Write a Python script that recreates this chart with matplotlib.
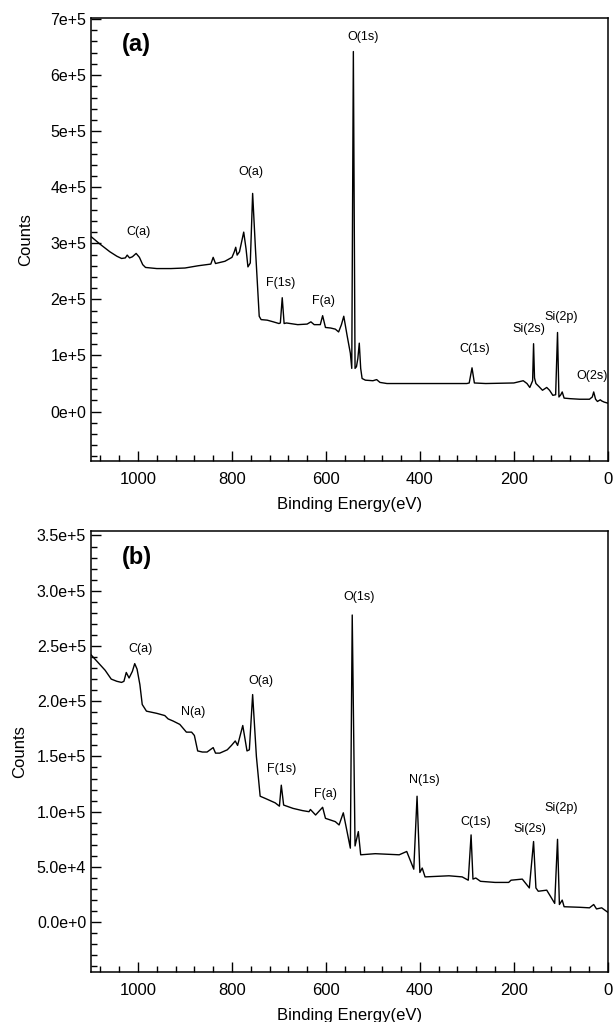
import numpy as np
import matplotlib.pyplot as plt
from matplotlib.ticker import MultipleLocator, FuncFormatter

plt.rcParams["font.family"] = ["Liberation Sans", "DejaVu Sans"]

# spectrum (a): binding energy [eV] / counts
energy_a = [1100, 1080, 1060, 1045, 1035, 1027, 1023, 1018, 1012, 1004, 997, 990, 984,
            960, 930, 900, 872, 845, 840, 835, 815, 800, 795, 792, 789, 784, 775,
            770, 766, 761, 756, 750, 742, 738, 725, 712, 700, 697, 693, 689, 684,
            660, 640, 632, 625, 612, 607, 601, 590, 580, 573, 567, 562, 555, 548,
            545, 541.6, 538, 535, 532, 529, 526, 523, 516, 500, 492, 485, 470,
            400, 300, 295, 289, 284, 260, 200, 190, 180, 172, 166, 160, 158, 156,
            153, 147, 139, 130, 124, 117, 111, 107, 104, 100, 97, 93, 80, 60, 39,
            33, 30, 26, 22, 16, 13, 8, 0]
counts_a = [3.12e5, 2.98e5, 2.85e5, 2.77e5, 2.73e5, 2.74e5, 2.79e5, 2.74e5, 2.76e5, 2.82e5, 2.75e5, 2.62e5, 2.57e5,
            2.55e5, 2.55e5, 2.56e5, 2.60e5, 2.63e5, 2.75e5, 2.64e5, 2.68e5, 2.75e5, 2.85e5, 2.93e5, 2.79e5, 2.85e5, 3.20e5,
            2.90e5, 2.58e5, 2.65e5, 3.89e5, 2.90e5, 1.70e5, 1.64e5, 1.63e5, 1.60e5, 1.57e5, 1.58e5, 2.03e5, 1.57e5, 1.58e5,
            1.55e5, 1.56e5, 1.60e5, 1.55e5, 1.55e5, 1.71e5, 1.50e5, 1.49e5, 1.47e5, 1.42e5, 1.55e5, 1.70e5, 1.36e5, 1.04e5,
            0.77e5, 6.42e5, 0.77e5, 0.80e5, 0.95e5, 1.22e5, 0.77e5, 0.59e5, 0.56e5, 0.55e5, 0.57e5, 0.52e5, 0.50e5,
            0.50e5, 0.50e5, 0.51e5, 0.78e5, 0.51e5, 0.50e5, 0.51e5, 0.53e5, 0.55e5, 0.50e5, 0.43e5, 0.55e5, 1.21e5, 0.60e5,
            0.50e5, 0.45e5, 0.38e5, 0.43e5, 0.38e5, 0.29e5, 0.30e5, 1.41e5, 0.26e5, 0.30e5, 0.35e5, 0.24e5, 0.23e5, 0.22e5, 0.22e5,
            0.26e5, 0.35e5, 0.22e5, 0.18e5, 0.21e5, 0.19e5, 0.17e5, 0.15e5]

# spectrum (b)
energy_b = [1100, 1085, 1070, 1057, 1045, 1035, 1030, 1025, 1019, 1012, 1007, 1002, 996, 991, 982,
            960, 943, 936, 925, 911, 897, 886, 880, 873, 863, 853, 840, 835, 826, 810, 801, 793,
            788, 777, 768, 763, 756, 748, 740, 729, 708, 699, 695, 690, 670, 650, 636,
            633, 622, 607, 601, 580, 572, 563, 555, 548, 544, 538, 531, 526, 495, 444, 428,
            413, 406, 400, 395, 389, 338, 310, 297, 291, 287, 281, 271, 240, 211, 206, 182,
            167, 158, 153, 148, 130, 120, 113, 107, 103, 97, 93, 60, 39, 30, 24, 13, 0]
counts_b = [2.42e5, 2.35e5, 2.28e5, 2.20e5, 2.18e5, 2.17e5, 2.18e5, 2.26e5, 2.21e5, 2.27e5, 2.34e5, 2.29e5, 2.15e5, 1.97e5, 1.91e5,
            1.89e5, 1.87e5, 1.84e5, 1.82e5, 1.79e5, 1.72e5, 1.72e5, 1.69e5, 1.55e5, 1.54e5, 1.54e5, 1.58e5, 1.53e5, 1.53e5, 1.56e5, 1.60e5, 1.64e5,
            1.60e5, 1.78e5, 1.55e5, 1.56e5, 2.06e5, 1.50e5, 1.14e5, 1.12e5, 1.08e5, 1.05e5, 1.24e5, 1.06e5, 1.03e5, 1.01e5, 1.00e5,
            1.02e5, 0.97e5, 1.04e5, 0.94e5, 0.91e5, 0.88e5, 0.99e5, 0.82e5, 0.67e5, 2.78e5, 0.69e5, 0.82e5, 0.61e5, 0.62e5, 0.61e5, 0.64e5,
            0.48e5, 1.14e5, 0.45e5, 0.49e5, 0.41e5, 0.42e5, 0.41e5, 0.38e5, 0.79e5, 0.39e5, 0.40e5, 0.37e5, 0.36e5, 0.36e5, 0.38e5, 0.39e5,
            0.31e5, 0.73e5, 0.31e5, 0.28e5, 0.29e5, 0.22e5, 0.17e5, 0.75e5, 0.16e5, 0.20e5, 0.14e5, 0.135e5, 0.13e5, 0.16e5, 0.12e5, 0.13e5, 0.09e5]

# peak labels: (text, eV, counts)
labels_a = [("C(a)", 998, 3.20e5), ("O(a)", 759, 4.27e5), ("F(1s)", 697, 2.29e5),
            ("F(a)", 605, 1.98e5), ("O(1s)", 521, 6.68e5), ("C(1s)", 283, 1.12e5),
            ("Si(2s)", 167, 1.48e5), ("Si(2p)", 99, 1.68e5), ("O(2s)", 33, 0.64e5)]
labels_b = [("C(a)", 994, 2.47e5), ("N(a)", 883, 1.90e5), ("O(a)", 738, 2.18e5),
            ("F(1s)", 695, 1.39e5), ("F(a)", 601, 1.16e5), ("O(1s)", 530, 2.94e5),
            ("N(1s)", 391, 1.29e5), ("C(1s)", 281, 0.91e5), ("Si(2s)", 166, 0.84e5),
            ("Si(2p)", 99, 1.03e5)]


def sci(decimals):
    def f(v, pos):
        if v == 0:
            return f"{0:.{decimals}f}e+0"
        e = int(np.floor(np.log10(abs(v))))
        return f"{v / 10**e:.{decimals}f}e+{e}"
    return FuncFormatter(f)


def panel(ax, E, C, labels, tag, ylim, major, minor, dec, ylab_x):
    ax.plot(E, C, color="k", lw=1.0)
    ax.set_xlim(1100, 0)
    ax.set_ylim(*ylim)
    ax.xaxis.set_major_locator(MultipleLocator(200))
    ax.xaxis.set_minor_locator(MultipleLocator(40))
    ax.yaxis.set_major_locator(MultipleLocator(major))
    ax.yaxis.set_minor_locator(MultipleLocator(minor))
    ax.yaxis.set_major_formatter(sci(dec))
    ax.tick_params(which="both", direction="in", top=False, right=False)
    ax.tick_params(which="major", length=7, width=1)
    ax.tick_params(which="minor", length=4, width=1)
    ax.tick_params(axis="x", labelsize=12, pad=8)
    ax.tick_params(axis="y", labelsize=11.5)
    for s in ax.spines.values():
        s.set_linewidth(1.1)
    for txt, x, y in labels:
        ax.text(x, y, txt, fontsize=9, ha="center", va="center")
    ax.text(0.06, 0.94, tag, transform=ax.transAxes, fontsize=17,
            fontweight="bold", ha="left", va="center")
    ax.set_xlabel("Binding Energy(eV)", fontsize=12, labelpad=7)
    ax.set_ylabel("Counts", fontsize=12)
    ax.yaxis.set_label_coords(ylab_x, 0.5)


fig = plt.figure(figsize=(6.13, 10.22), dpi=100)
ax1 = fig.add_axes([0.1485, 0.549, 0.843, 0.4335])
ax2 = fig.add_axes([0.1485, 0.049, 0.843, 0.4314])

panel(ax1, energy_a, counts_a, labels_a, "(a)", (-0.88e5, 7.02e5), 1e5, 2e4, 0, -0.113)
panel(ax2, energy_b, counts_b, labels_b, "(b)", (-0.45e5, 3.54e5), 0.5e5, 1e4, 1, -0.123)

fig.savefig("out.png", dpi=100)
